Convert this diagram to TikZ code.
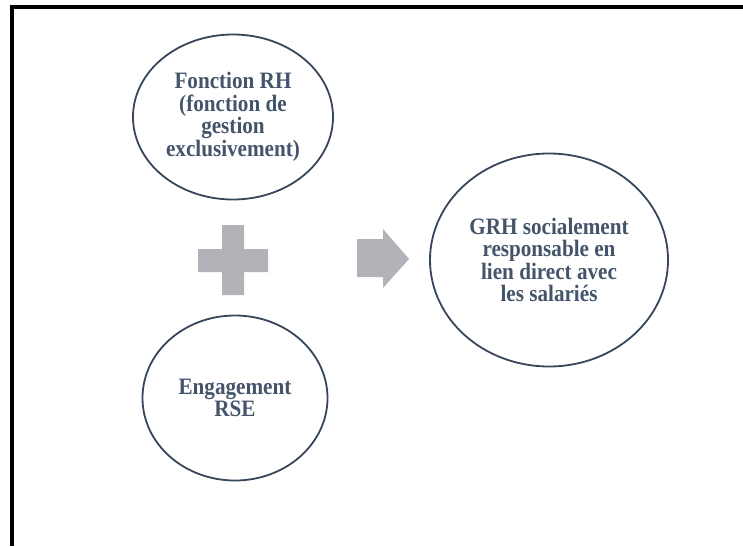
\documentclass[tikz,border=0pt]{standalone}
\usepackage{fontspec}
\setmainfont{Liberation Serif}[FakeStretch=0.9]
\usepackage{tikz}
\usetikzlibrary{shapes.geometric,positioning}

\definecolor{txtblue}{HTML}{44546A}
\definecolor{linecol}{HTML}{37465A}
\definecolor{signgray}{HTML}{B1B3B9}

\begin{document}
\begin{tikzpicture}[%
x=1pt,
y=-1pt,
circ/.style={ellipse, draw=linecol, line width=1.8pt, align=center,
  text=txtblue, inner sep=0pt,
  font=\fontsize{23.5}{22.6}\selectfont\bfseries}
]

\useasboundingbox (0,0) rectangle (743,546);
\draw[line width=4pt] (743,7) -- (12,7) -- (12,546);

\node[circ, minimum width=200pt, minimum height=165pt] (0) at (233,117)
  {Fonction RH\\(fonction de\\gestion\\exclusivement)};
\node[circ, minimum width=185pt, minimum height=165pt] (1) at (235,398)
  {Engagement\\RSE};
\node[circ, minimum width=238pt, minimum height=213pt] (2) at (549,260)
  {GRH socialement\\responsable en\\lien direct avec\\les salariés};

% plus sign
\fill[signgray] (222,225) -- (244,225) -- (244,249) -- (268,249) -- (268,272)
  -- (244,272) -- (244,295) -- (222,295) -- (222,272) -- (198,272)
  -- (198,249) -- (222,249) -- cycle;

% arrow
\fill[signgray] (357,239) -- (383,239) -- (383,229) -- (409,259) -- (383,288)
  -- (383,277) -- (357,277) -- cycle;

\end{tikzpicture}
\end{document}
